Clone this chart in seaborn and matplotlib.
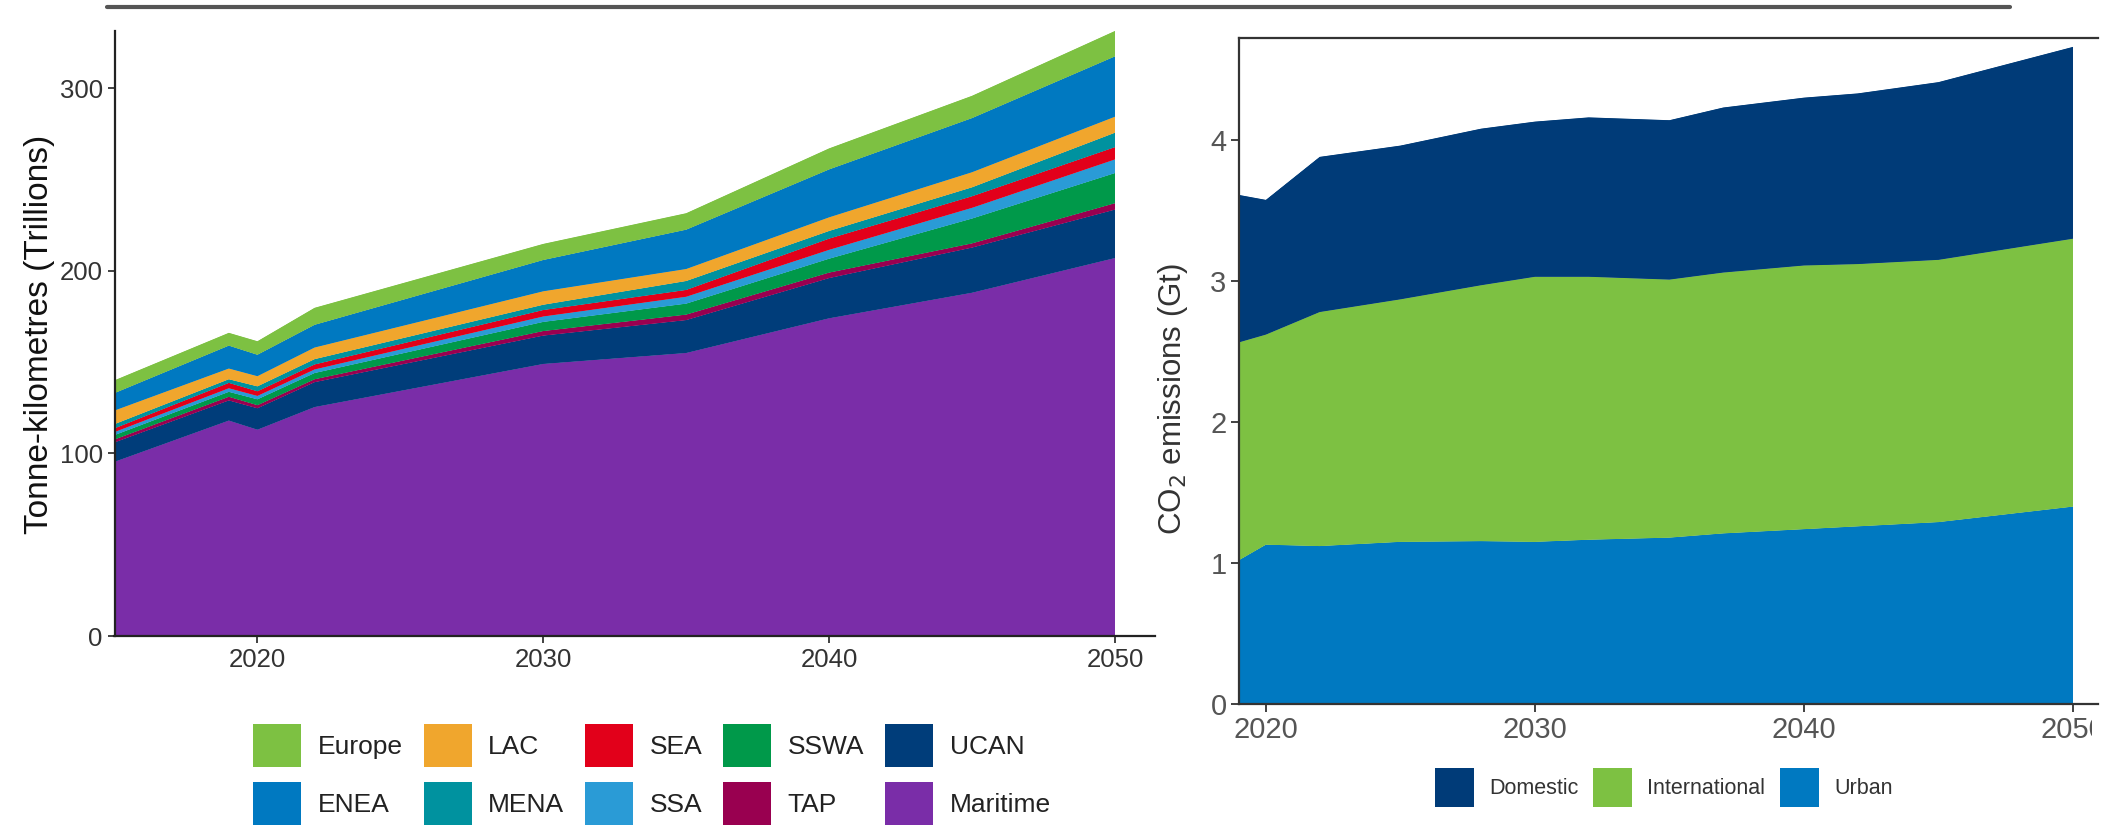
import matplotlib
matplotlib.use("Agg")
import matplotlib.pyplot as plt
from matplotlib import font_manager
from matplotlib.patches import Patch
from matplotlib.lines import Line2D
from matplotlib.transforms import Bbox, TransformedBbox
import pandas as pd
import seaborn as sns
import seaborn.objects as so

# ---- Freight activity by region (trillion tonne-km), layer thickness ----
freight_years = [2015, 2019, 2020, 2022, 2030, 2035, 2040, 2045, 2050]
maritime = [95.4, 118.0, 113.0, 125.4, 149.0, 155.0, 174.0, 188.0, 207.0]
ucan = [10.6, 11.0, 11.7, 13.6, 15.5, 18.0, 22.0, 24.7, 26.5]
tap = [1.6, 2.0, 1.7, 1.6, 2.5, 3.0, 3.0, 2.3, 3.5]
sswa = [2.4, 2.7, 3.2, 3.4, 5.0, 6.0, 7.6, 13.6, 16.5]
ssa = [1.7, 2.0, 1.9, 2.0, 3.0, 3.8, 4.9, 5.9, 7.5]
sea = [2.0, 2.9, 2.5, 2.7, 3.5, 3.7, 6.1, 6.3, 6.7]
mena = [2.3, 2.0, 2.7, 2.9, 2.9, 4.9, 4.2, 4.9, 7.9]
lac = [7.5, 5.9, 5.6, 6.4, 7.4, 6.6, 7.5, 8.3, 8.8]
enea = [9.5, 12.5, 11.7, 12.4, 17.1, 21.5, 26.2, 29.6, 33.0]
europe = [7.0, 7.0, 7.4, 9.3, 8.8, 9.0, 11.5, 12.2, 13.9]

# bottom-to-top stacking order
region_series = {
    "Maritime": maritime, "UCAN": ucan, "TAP": tap, "SSWA": sswa, "SSA": ssa,
    "SEA": sea, "MENA": mena, "LAC": lac, "ENEA": enea, "Europe": europe,
}
region_colors = {
    "Europe": "#7DC142", "ENEA": "#0079C1", "LAC": "#F0A62D", "MENA": "#00929F",
    "SEA": "#E2001A", "SSA": "#2A9BD6", "SSWA": "#00994A", "TAP": "#990050",
    "UCAN": "#003D7A", "Maritime": "#7A2DA8",
}
legend_order = ["Europe", "ENEA", "LAC", "MENA", "SEA", "SSA",
                "SSWA", "TAP", "UCAN", "Maritime"]

# ---- CO2 emissions by segment (Gt), layer thickness ----
emis_years = [2019, 2020, 2022, 2025, 2028, 2030, 2032, 2035, 2037, 2040, 2042, 2045, 2050]
urban = [1.02, 1.13, 1.12, 1.15, 1.155, 1.15, 1.165, 1.18, 1.21, 1.24, 1.26, 1.29, 1.40]
international = [1.545, 1.49, 1.66, 1.72, 1.815, 1.88, 1.865, 1.83, 1.85, 1.87, 1.86, 1.86, 1.90]
domestic = [1.045, 0.955, 1.10, 1.09, 1.11, 1.10, 1.13, 1.13, 1.17, 1.19, 1.21, 1.26, 1.36]

segment_series = {"Urban": urban, "International": international, "Domestic": domestic}
segment_colors = {"Domestic": "#003B78", "International": "#7DC142", "Urban": "#0079C1"}
segment_legend = ["Domestic", "International", "Urban"]


def long_table(years, series, key, val):
    rows = []
    for name, values in series.items():
        for y, v in zip(years, values):
            rows.append({"year": y, key: name, val: v})
    return pd.DataFrame(rows)


freight = long_table(freight_years, region_series, "region", "tkm")
emissions = long_table(emis_years, segment_series, "segment", "co2")

sns.set_theme(style="ticks")
plt.rcParams["font.family"] = ["Liberation Sans", "DejaVu Sans"]
plt.rcParams["axes.facecolor"] = "white"

# condensed face for the small emissions legend, if present
try:
    font_manager.findfont("Liberation Sans Narrow", fallback_to_default=False)
    small_legend_font = {"family": ["Liberation Sans Narrow", "Liberation Sans"], "size": 18}
except Exception:
    small_legend_font = {"family": ["Liberation Sans", "DejaVu Sans"], "size": 15.5}

W, H, DPI = 2105, 825, 100
fig = plt.figure(figsize=(W / DPI, H / DPI), dpi=DPI)


def box(x0, top, x1, bottom):
    return [x0 / W, 1 - bottom / H, (x1 - x0) / W, (bottom - top) / H]


ax_l = fig.add_axes(box(114.5, 31, 1155, 636))
ax_r = fig.add_axes(box(1239, 37.6, 2098, 704))

theme = {**sns.axes_style("ticks"), "font.family": ["Liberation Sans", "DejaVu Sans"]}

(so.Plot(freight, x="year", y="tkm", color="region")
   .add(so.Area(alpha=1, edgewidth=0.6), so.Stack(), legend=False)
   .scale(color=so.Nominal(region_colors, order=list(region_series)))
   .theme(theme)
   .on(ax_l)
   .plot())

(so.Plot(emissions, x="year", y="co2", color="segment")
   .add(so.Area(alpha=1, edgewidth=0.6), so.Stack(), legend=False)
   .scale(color=so.Nominal(segment_colors, order=list(segment_series)))
   .theme(theme)
   .on(ax_r)
   .plot())

# ---- left panel styling ----
ax_l.set_facecolor("white")
ax_l.grid(False)
ax_l.set_xlim(2015, 2051.4)
ax_l.set_ylim(0, 331.3)
ax_l.set_xticks([2020, 2030, 2040, 2050])
ax_l.set_xticklabels(["2020", "2030", "2040", "2050"])
ax_l.set_yticks([0, 100, 200, 300])
ax_l.set_yticklabels(["0", "100", "200", "300"])
ax_l.set_xlabel("")
ax_l.set_ylabel("Tonne-kilometres (Trillions)", fontsize=24, color="#111")
ax_l.yaxis.set_label_coords(-0.072, 0.498)
ax_l.yaxis.label.set_va("center")
for s in ("top", "right"):
    ax_l.spines[s].set_visible(False)
for s in ("left", "bottom"):
    ax_l.spines[s].set_linewidth(1.6)
    ax_l.spines[s].set_color("#222")
ax_l.tick_params(axis="both", labelsize=18.5, length=5, width=1.3, color="#333",
                 labelcolor="#333", pad=3.5, direction="out")

# ---- right panel styling ----
ax_r.set_facecolor("white")
ax_r.grid(False)
ax_r.set_xlim(2019, 2050.93)
ax_r.set_ylim(0, 4.726)
ax_r.set_xticks([2020, 2030, 2040, 2050])
ax_r.set_xticklabels(["2020", "2030", "2040", "2050"])
ax_r.set_yticks([0, 1, 2, 3, 4])
ax_r.set_yticklabels(["0", "1", "2", "3", "4"])
ax_r.set_xlabel("")
ax_r.set_ylabel("CO$_2$ emissions (Gt)", fontsize=22.5, color="#333")
ax_r.yaxis.set_label_coords(-0.077, 0.458)
ax_r.yaxis.label.set_va("center")
ax_r.spines["right"].set_visible(False)
for s in ("left", "bottom", "top"):
    ax_r.spines[s].set_linewidth(1.6)
    ax_r.spines[s].set_color("#333")
ax_r.tick_params(axis="both", labelsize=21, length=5.5, width=1.3, color="#333",
                 labelcolor="#555", pad=3.5, direction="out")

# the emissions panel is trimmed at the right edge of the figure
trim = TransformedBbox(Bbox([[0, 0], [2092 / W, 1]]), fig.transFigure)
for lab in ax_r.get_xticklabels():
    lab.set_clip_on(True)
    lab.set_clip_box(trim)

# ---- legends ----
left_handles = [Patch(facecolor=region_colors[r], edgecolor="none") for r in legend_order]
fig.legend(left_handles, legend_order, ncol=5, loc="upper left",
           bbox_to_anchor=(253 / W, 1 - 724 / H), frameon=False,
           borderpad=0, borderaxespad=0, prop={"size": 19},
           handlelength=1.82, handleheight=2.13, handletextpad=0.62,
           columnspacing=0.8, labelspacing=0.56, labelcolor="#222")

fs_small = small_legend_font["size"] * DPI / 72
right_handles = [Patch(facecolor=segment_colors[s], edgecolor="none") for s in segment_legend]
fig.legend(right_handles, segment_legend, ncol=3, loc="center left",
           bbox_to_anchor=(1435 / W, 1 - 787 / H), frameon=False,
           borderpad=0, borderaxespad=0, prop=small_legend_font,
           handlelength=39 / fs_small,
           handleheight=(39 / fs_small - 0.245) / 0.65,
           handletextpad=15 / fs_small, columnspacing=15 / fs_small,
           labelcolor="#333")

# thin rule across the top of the figure
fig.add_artist(Line2D([107 / W, 2010 / W], [1 - 7 / H, 1 - 7 / H],
                      color="#555", linewidth=3, transform=fig.transFigure))

fig.savefig("out.png", dpi=DPI, facecolor="white")
